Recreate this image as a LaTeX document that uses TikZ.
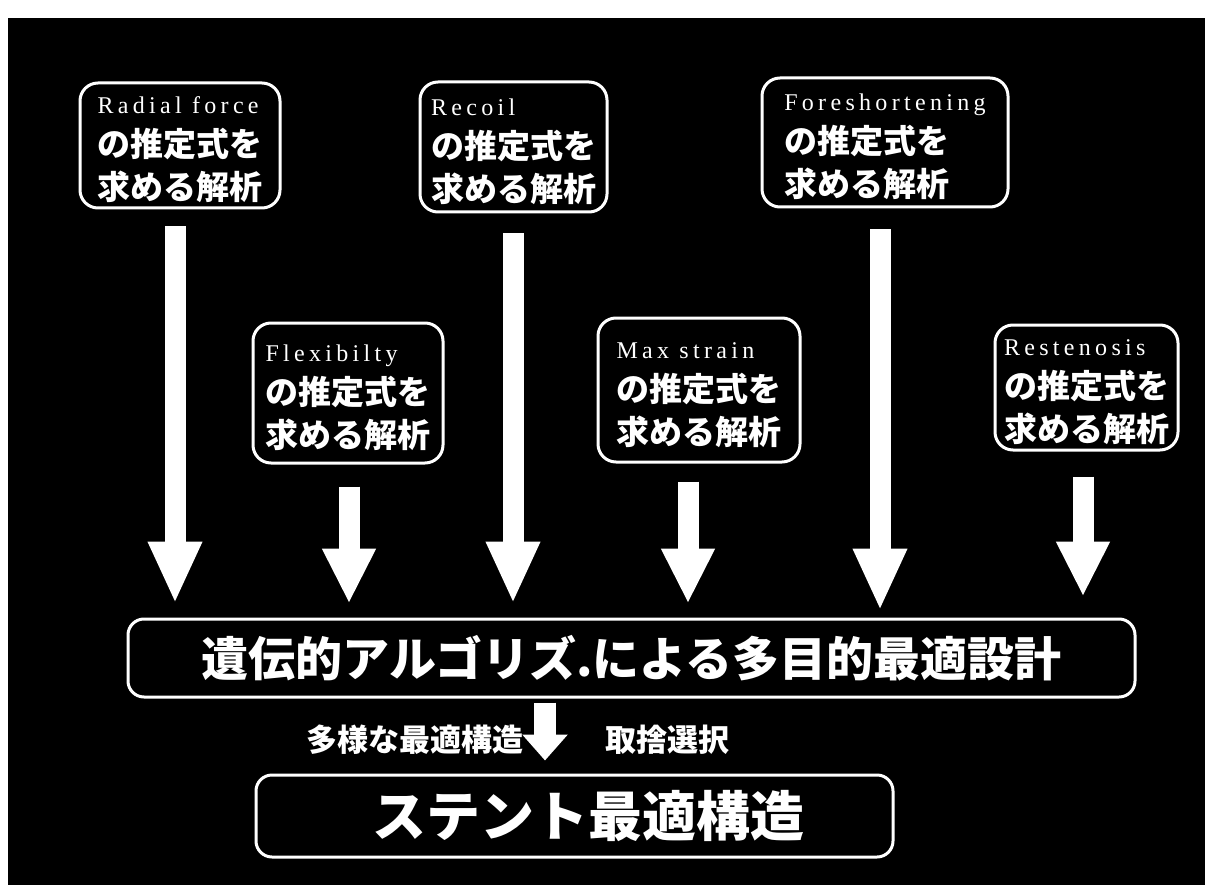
\documentclass[tikz,border=0pt]{standalone}
\usepackage{fontspec}
\usetikzlibrary{arrows.meta}
\setmainfont{Liberation Serif}
\newfontfamily\jpfont{Noto Sans CJK JP}
\newfontfamily\engfont[LetterSpace=18]{Liberation Serif}
\newcommand\boxtext[1]{{\engfont\mdseries\fontsize{24}{43}\selectfont\rule{0pt}{26pt}#1}\\の推定式を\\求める解析}
\begin{document}
\begin{tikzpicture}[x=1pt,y=-1pt,
  box/.style={draw=white, line width=3pt, rounded corners=18pt, text=white, align=left, inner sep=0pt,
    font=\jpfont\bfseries\fontsize{33}{43}\selectfont},
  wide/.style={draw=white, line width=3pt, rounded corners=16pt, text=white, inner sep=0pt,
    font=\jpfont\bfseries},
  lab/.style={text=white, inner sep=0pt, font=\jpfont\bfseries\fontsize{31}{34}\selectfont},
  bigarrow/.style={draw=white, line width=21pt, -{Triangle[width=50pt,length=62pt]}},
  shortarrow/.style={draw=white, line width=21pt, -{Triangle[width=50pt,length=55pt]}},
  smallarrow/.style={draw=white, line width=22pt, -{Triangle[width=44pt,length=26pt]}}
]
\useasboundingbox (0,0) rectangle (1212,893);
\fill[white] (0,0) rectangle (1212,893);
\fill[black] (8,18) rectangle (1205,885);

% upper boxes
\node[box, minimum width=200pt, minimum height=125pt] (b1) at (180,145.5) {\boxtext{Radial force}};
\node[box, minimum width=187pt, minimum height=130pt] (b2) at (513.5,147) {\boxtext{Recoil}};
\node[box, minimum width=246pt, minimum height=129pt] (b3) at (885,142.5) {\boxtext{Foreshortening}};
% lower boxes
\node[box, minimum width=190pt, minimum height=140pt] (b4) at (348,393) {\boxtext{Flexibilty}};
\node[box, minimum width=202pt, minimum height=144pt] (b5) at (699,390) {\boxtext{Max strain}};
\node[box, minimum width=183pt, minimum height=125pt] (b6) at (1086.5,387.5) {\boxtext{Restenosis}};

% GA box
\node[wide, minimum width=1007pt, minimum height=78pt, font=\jpfont\bfseries\fontsize{47}{50}\selectfont]
  (ga) at (631.5,658) {遺伝的アルゴリズ.による多目的最適設計\hspace{40pt}};
% result box
\node[wide, minimum width=637pt, minimum height=82pt, font=\jpfont\bfseries\fontsize{54}{58}\selectfont]
  (st) at (574.5,816) {\hspace*{28pt}ステント最適構造};

% arrow x positions
\coordinate (x1) at (175,0);
\coordinate (x2) at (513,0);
\coordinate (x3) at (880,0);
\coordinate (x4) at (349,0);
\coordinate (x5) at (688,0);
\coordinate (x6) at (1083,0);
\coordinate (x7) at (545,0);

\draw[bigarrow, shorten <=17pt, shorten >=14pt] (b1.south -| x1) -- (ga.north -| x1);
\draw[bigarrow, shorten <=20pt, shorten >=14pt] (b2.south -| x2) -- (ga.north -| x2);
\draw[bigarrow, shorten <=21pt, shorten >=7pt] (b3.south -| x3) -- (ga.north -| x3);
\draw[shortarrow, shorten <=22pt, shorten >=14pt] (b4.south -| x4) -- (ga.north -| x4);
\draw[shortarrow, shorten <=18pt, shorten >=14pt] (b5.south -| x5) -- (ga.north -| x5);
\draw[shortarrow, shorten <=25pt, shorten >=21pt] (b6.south -| x6) -- (ga.north -| x6);

\draw[smallarrow, shorten <=4pt, shorten >=13pt] (ga.south -| x7) -- (st.north -| x7);

\node[lab, anchor=east] (l1) at (524,740) {多様な最適構造};
\node[lab, anchor=west] (l2) at (605,740) {取捨選択};
\end{tikzpicture}
\end{document}
